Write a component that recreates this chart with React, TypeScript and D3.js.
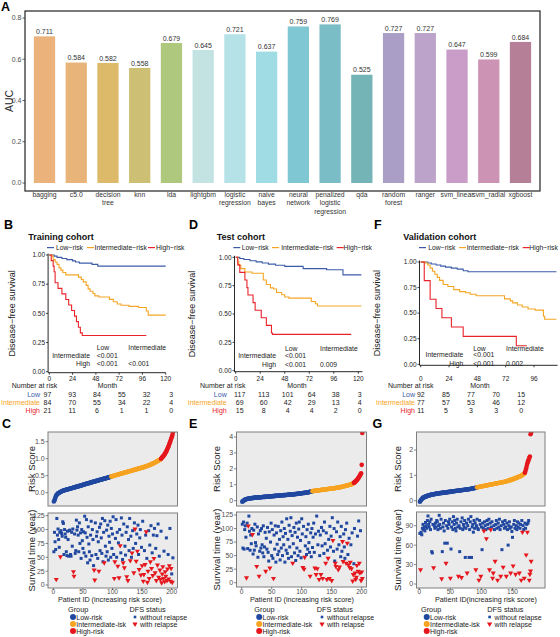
import React from 'react';
import * as d3 from 'd3';

const FONT = '"Liberation Sans", Arial, Helvetica, sans-serif';

// ---------- Panel A: AUC of each learner ----------
const modelNames = ['bagging', 'c5.0', 'decision tree', 'knn', 'lda', 'lightgbm', 'logistic regression', 'naive bayes', 'neural network', 'penalized logistic regression', 'qda', 'random forest', 'ranger', 'svm_linear', 'svm_radial', 'xgboost'];
const modelAuc = [0.711, 0.584, 0.582, 0.558, 0.679, 0.645, 0.721, 0.637, 0.759, 0.769, 0.525, 0.727, 0.727, 0.647, 0.599, 0.684];
const modelFill = ['#EBB27B', '#E9B479', '#DDB96A', '#CDBF73', '#AEC97D', '#C2E3E2', '#B4E2E6', '#A0DCE3', '#7FC7D3', '#7ABDC7', '#74B4B6', '#AA9EC7', '#BBA3C9', '#C99DC7', '#CD93B5', '#B57F97'];
const aucTicks = [0, 0.2, 0.4, 0.6, 0.8];

// ---------- Kaplan-Meier change points: [month, survival] ----------
const trainLow = [[0, 1], [5, 0.99], [8, 0.98], [13, 0.97], [18, 0.96], [24, 0.95], [27, 0.94], [31, 0.93], [44, 0.92], [50, 0.905], [120, 0.905]];
const trainInt = [[0, 1], [3, 0.99], [4, 0.96], [6, 0.94], [8, 0.92], [10, 0.89], [12, 0.87], [14, 0.85], [17, 0.83], [30, 0.81], [33, 0.79], [35, 0.77], [38, 0.74], [40, 0.71], [42, 0.69], [45, 0.67], [47, 0.65], [51, 0.64], [62, 0.62], [66, 0.6], [70, 0.58], [74, 0.57], [82, 0.56], [92, 0.55], [100, 0.52], [102, 0.485], [120, 0.485]];
const trainHigh = [[0, 1], [2, 0.952], [4, 0.905], [5, 0.857], [6, 0.762], [9, 0.714], [13, 0.667], [17, 0.619], [20, 0.571], [23, 0.524], [26, 0.476], [28, 0.429], [30, 0.381], [32, 0.333], [34, 0.31], [100, 0.31]];

const testLow = [[0, 1], [4, 0.99], [8, 0.98], [14, 0.97], [20, 0.96], [26, 0.95], [32, 0.94], [39, 0.93], [48, 0.92], [66, 0.9], [89, 0.89], [105, 0.845], [123, 0.845]];
const testInt = [[0, 1], [2, 0.96], [3, 0.93], [5, 0.9], [9, 0.87], [16, 0.86], [27, 0.8], [30, 0.76], [34, 0.73], [37, 0.72], [40, 0.69], [45, 0.67], [48, 0.65], [52, 0.64], [74, 0.61], [78, 0.59], [80, 0.57], [123, 0.57]];
const testHigh = [[0, 1], [2, 0.933], [4, 0.867], [9, 0.8], [11, 0.733], [12, 0.667], [17, 0.6], [19, 0.533], [25, 0.467], [30, 0.4], [35, 0.333], [36, 0.32], [113, 0.32]];

const validLow = [[0, 1], [6, 0.99], [9, 0.98], [13, 0.97], [17, 0.96], [21, 0.95], [26, 0.94], [31, 0.93], [36, 0.915], [40, 0.905], [115, 0.905]];
const validInt = [[0, 1], [4, 0.99], [6, 0.97], [8, 0.94], [10, 0.91], [12, 0.88], [14, 0.85], [16, 0.82], [19, 0.78], [23, 0.76], [28, 0.73], [33, 0.71], [38, 0.7], [42, 0.685], [47, 0.67], [71, 0.64], [76, 0.62], [78, 0.6], [82, 0.58], [86, 0.56], [91, 0.54], [97, 0.53], [104, 0.47], [105, 0.44], [115, 0.44]];
const validHigh = [[0, 1], [3, 0.818], [8, 0.636], [13, 0.545], [18, 0.455], [26, 0.364], [36, 0.273], [81, 0.182], [90, 0.182]];

const survTicks = [0, 0.25, 0.5, 0.75, 1];
const monthTicks120 = [0, 24, 48, 72, 96, 120];
const monthTicks96 = [0, 24, 48, 72, 96];
const groupLabels = ['Low', 'Intermediate', 'High'];
const legendLabels = ['Low\u2212risk', 'Intermediate\u2212risk', 'High\u2212risk'];

// Number at risk (rows: Low, Intermediate, High)
const trainAtRisk = [[97, 93, 84, 55, 32, 3], [84, 70, 55, 34, 22, 4], [21, 11, 6, 1, 1, 0]];
const testAtRisk = [[117, 113, 101, 64, 38, 3], [69, 60, 42, 29, 13, 4], [15, 8, 4, 4, 2, 0]];
const validAtRisk = [[92, 85, 77, 70, 15], [77, 57, 53, 46, 12], [11, 5, 3, 3, 0]];

// pairwise log-rank p: Int vs Low, High vs Low, High vs Int
const trainPvals = ['<0.001', '<0.001', '<0.001'];
const testPvals = ['<0.001', '<0.001', '0.009'];
const validPvals = ['<0.001', '<0.001', '0.002'];

// ---------- Risk scores, ordered by patient ID ----------
const trainRisk = [
  -0.26, -0.22, -0.17, -0.12, -0.08, -0.06, -0.04, -0.02, -0.01, 0.0,
  0.01, 0.02, 0.03, 0.04, 0.05, 0.05, 0.06, 0.07, 0.07, 0.08,
  0.08, 0.09, 0.09, 0.1, 0.1, 0.11, 0.11, 0.12, 0.12, 0.13,
  0.13, 0.14, 0.14, 0.15, 0.15, 0.16, 0.16, 0.17, 0.17, 0.18,
  0.18, 0.19, 0.19, 0.2, 0.2, 0.21, 0.21, 0.22, 0.22, 0.23,
  0.24, 0.24, 0.25, 0.25, 0.26, 0.26, 0.27, 0.27, 0.28, 0.28,
  0.29, 0.29, 0.3, 0.3, 0.31, 0.31, 0.32, 0.32, 0.33, 0.33,
  0.34, 0.34, 0.35, 0.35, 0.36, 0.36, 0.37, 0.37, 0.38, 0.38,
  0.39, 0.39, 0.4, 0.4, 0.41, 0.41, 0.42, 0.42, 0.43, 0.43,
  0.44, 0.44, 0.45, 0.45, 0.46, 0.46, 0.47,
  0.48, 0.48, 0.49, 0.49, 0.5, 0.5, 0.51, 0.51, 0.52, 0.52,
  0.53, 0.53, 0.54, 0.54, 0.55, 0.55, 0.56, 0.56, 0.57, 0.57,
  0.58, 0.58, 0.59, 0.59, 0.6, 0.6, 0.61, 0.61, 0.62, 0.62,
  0.63, 0.63, 0.64, 0.64, 0.65, 0.65, 0.66, 0.66, 0.67, 0.67,
  0.68, 0.68, 0.69, 0.69, 0.7, 0.7, 0.71, 0.71, 0.72, 0.72,
  0.73, 0.73, 0.74, 0.74, 0.75, 0.75, 0.76, 0.77, 0.77, 0.78,
  0.78, 0.79, 0.8, 0.8, 0.81, 0.82, 0.82, 0.83, 0.84, 0.85,
  0.86, 0.86, 0.87, 0.88, 0.89, 0.9, 0.91, 0.92, 0.93, 0.94,
  0.95, 0.96, 0.97, 0.98,
  1.0, 1.02, 1.04, 1.06, 1.08, 1.1, 1.13, 1.16, 1.19, 1.22, 1.26, 1.3, 1.34, 1.38, 1.43, 1.48, 1.53, 1.58, 1.63, 1.69, 1.76,
];
const testRisk = [
  -0.06, -0.03, 0.0, 0.03, 0.05, 0.07, 0.09, 0.1, 0.11, 0.12,
  0.13, 0.14, 0.14, 0.15, 0.15, 0.16, 0.16, 0.17, 0.17, 0.18,
  0.18, 0.19, 0.19, 0.19, 0.2, 0.2, 0.2, 0.21, 0.21, 0.21,
  0.22, 0.22, 0.22, 0.23, 0.23, 0.23, 0.24, 0.24, 0.24, 0.25,
  0.25, 0.25, 0.26, 0.26, 0.26, 0.27, 0.27, 0.27, 0.28, 0.28,
  0.28, 0.29, 0.29, 0.29, 0.3, 0.3, 0.3, 0.31, 0.31, 0.31,
  0.32, 0.32, 0.32, 0.33, 0.33, 0.33, 0.34, 0.34, 0.34, 0.35,
  0.35, 0.35, 0.36, 0.36, 0.36, 0.37, 0.37, 0.37, 0.38, 0.38,
  0.38, 0.39, 0.39, 0.39, 0.4, 0.4, 0.4, 0.41, 0.41, 0.42,
  0.42, 0.43, 0.43, 0.44, 0.44, 0.45, 0.45, 0.46, 0.46, 0.47,
  0.47, 0.48, 0.48, 0.49, 0.49, 0.5, 0.5, 0.51, 0.51, 0.52,
  0.53, 0.54, 0.55, 0.56, 0.57, 0.58, 0.59,
  0.6, 0.61, 0.61, 0.62, 0.62, 0.63, 0.63, 0.64, 0.64, 0.65,
  0.65, 0.66, 0.66, 0.67, 0.67, 0.68, 0.68, 0.69, 0.69, 0.7,
  0.7, 0.71, 0.71, 0.72, 0.72, 0.73, 0.73, 0.74, 0.74, 0.75,
  0.75, 0.76, 0.76, 0.77, 0.77, 0.78, 0.78, 0.79, 0.79, 0.8,
  0.81, 0.81, 0.82, 0.83, 0.83, 0.84, 0.85, 0.85, 0.86, 0.87,
  0.88, 0.89, 0.9, 0.91, 0.92, 0.93, 0.94, 0.95, 0.96, 0.97,
  0.98, 0.99, 1.0, 1.01, 1.02, 1.04, 1.05, 1.07, 1.09,
  1.12, 1.15, 1.18, 1.22, 1.26, 1.3, 1.35, 1.4, 1.45, 1.52, 1.58, 1.65, 1.72, 2.25, 4.25,
];
const validRisk = [
  -0.04, 0.0, 0.04, 0.07, 0.09, 0.11, 0.13, 0.14, 0.15, 0.16,
  0.17, 0.18, 0.19, 0.2, 0.21, 0.21, 0.22, 0.23, 0.23, 0.24,
  0.24, 0.25, 0.25, 0.26, 0.26, 0.27, 0.27, 0.28, 0.28, 0.29,
  0.29, 0.29, 0.3, 0.3, 0.3, 0.31, 0.31, 0.31, 0.32, 0.32,
  0.32, 0.33, 0.33, 0.33, 0.34, 0.34, 0.34, 0.35, 0.35, 0.35,
  0.36, 0.36, 0.36, 0.37, 0.37, 0.37, 0.38, 0.38, 0.38, 0.39,
  0.39, 0.39, 0.4, 0.4, 0.4, 0.41, 0.41, 0.41, 0.42, 0.42,
  0.42, 0.43, 0.43, 0.43, 0.44, 0.44, 0.44, 0.45, 0.45, 0.45,
  0.46, 0.46, 0.47, 0.47, 0.48, 0.48, 0.49, 0.49, 0.5, 0.5,
  0.51, 0.52,
  0.53, 0.53, 0.54, 0.54, 0.55, 0.55, 0.56, 0.56, 0.57, 0.57,
  0.58, 0.58, 0.59, 0.59, 0.6, 0.6, 0.61, 0.61, 0.62, 0.62,
  0.63, 0.63, 0.64, 0.64, 0.65, 0.65, 0.66, 0.66, 0.67, 0.67,
  0.68, 0.68, 0.69, 0.69, 0.7, 0.7, 0.71, 0.71, 0.72, 0.72,
  0.73, 0.73, 0.74, 0.74, 0.75, 0.75, 0.76, 0.77, 0.77, 0.78,
  0.79, 0.79, 0.8, 0.81, 0.82, 0.82, 0.83, 0.84, 0.85, 0.86,
  0.87, 0.88, 0.89, 0.9, 0.91, 0.92, 0.93, 0.94, 0.95, 0.96,
  0.97, 0.98, 1.0, 1.01, 1.03, 1.05, 1.07,
  1.1, 1.18, 1.28, 1.38, 1.48, 1.56, 1.62, 1.68, 1.74, 2.62, 2.68,
];

// ---------- Follow-up time per patient, and patients with relapse ----------
const trainSurv = [
  60, 95, 78, 64, 10, 120, 90, 101, 82, 68,
  95, 51, 98, 93, 88, 114, 111, 55, 100, 92,
  86, 60, 53, 97, 82, 52, 98, 99, 55, 52,
  95, 70, 101, 24, 16, 92, 57, 62, 117, 99,
  105, 90, 60, 112, 75, 94, 48, 100, 80, 66,
  96, 58, 124, 94, 52, 118, 86, 40, 105, 74,
  60, 45, 90, 115, 53, 100, 82, 35, 27, 9,
  112, 55, 88, 96, 48, 78, 25, 104, 62, 110,
  85, 57, 120, 42, 95, 40, 116, 70, 52, 99,
  60, 108, 45, 88, 77, 115, 50, 102, 66, 92,
  123, 55, 12, 42, 84, 118, 50, 95, 34, 76,
  13, 100, 71, 58, 121, 90, 46, 40, 110, 31,
  70, 54, 95, 15, 105, 8, 82, 62, 120, 44,
  88, 50, 58, 98, 66, 22, 112, 101, 75, 43,
  92, 61, 108, 55, 28, 85, 100, 18, 68, 35,
  115, 7, 19, 62, 37, 90, 96, 48, 5, 25,
  98, 12, 72, 42, 107, 30, 58, 17, 90, 48,
  102, 22, 66, 8, 89, 36, 110, 14, 52, 27,
  10, 97, 4, 20, 33, 12, 61, 6, 24, 16,
  85, 8, 29, 55, 11, 35, 102, 7, 30, 20, 5, 49,
];
const trainRelapse = [5, 12, 34, 35, 69, 70, 77, 86, 103, 104, 109, 111, 113, 118, 120, 124, 126, 130, 133, 136, 138, 140, 142, 145, 148, 150, 152, 153, 155, 157, 159, 160, 162, 164, 166, 168, 170, 172, 174, 176, 178, 180, 181, 183, 184, 185, 186, 188, 189, 190, 192, 193, 195, 196, 198, 199, 201];

const testSurv = [
  108, 64, 112, 62, 98, 105, 84, 9, 110, 63,
  105, 123, 95, 60, 88, 72, 100, 89, 53, 97,
  60, 108, 74, 68, 30, 103, 47, 90, 12, 58,
  96, 64, 100, 70, 55, 105, 48, 66, 93, 21,
  82, 62, 102, 56, 40, 94, 27, 75, 110, 50,
  98, 45, 8, 88, 62, 105, 38, 92, 71, 52,
  104, 58, 80, 42, 96, 64, 112, 50, 85, 70,
  100, 38, 91, 60, 118, 54, 80, 45, 106, 66,
  95, 120, 48, 87, 36, 72, 102, 55, 93, 41,
  110, 64, 84, 50, 99, 112, 58, 78, 46, 118,
  90, 28, 104, 25, 47, 68, 85, 52, 98, 62,
  108, 74, 56, 12, 92, 48, 100, 65, 84, 110,
  56, 27, 90, 15, 123, 26, 70, 95, 6, 50,
  88, 15, 102, 68, 8, 96, 54, 112, 72, 36,
  92, 6, 60, 45, 80, 8, 104, 66, 86, 4,
  120, 78, 58, 100, 40, 36, 30, 94, 62, 112,
  24, 70, 29, 85, 48, 104, 58, 76, 39, 90,
  66, 45, 98, 36, 110, 73, 52, 33, 82, 28,
  38, 70, 26, 92, 3, 15, 35, 100, 18, 6,
  10, 32, 86, 21, 114, 36, 18, 96, 4, 20, 8,
];
const testRelapse = [8, 11, 18, 25, 29, 40, 47, 53, 85, 102, 104, 105, 114, 122, 124, 126, 129, 132, 135, 140, 142, 144, 146, 150, 152, 156, 157, 161, 163, 168, 169, 174, 176, 178, 180, 181, 183, 185, 186, 189, 190, 191, 192, 194, 196, 197, 199, 200, 201];

const validSurv = [
  78, 22, 80, 76, 86, 92, 84, 88, 82, 95,
  90, 86, 98, 105, 92, 88, 96, 84, 100, 50,
  48, 92, 25, 90, 86, 94, 88, 98, 96, 84,
  90, 106, 92, 86, 100, 8, 50, 88, 94, 82,
  63, 98, 32, 90, 63, 86, 96, 92, 100, 9,
  54, 88, 96, 84, 104, 92, 98, 86, 82, 94,
  100, 88, 12, 90, 50, 86, 96, 10, 102, 84,
  92, 88, 98, 41, 86, 94, 17, 90, 100, 41,
  84, 96, 104, 41, 88, 92, 80, 98, 86, 94,
  22, 90, 100, 86, 84, 6, 98, 92, 12, 88,
  53, 94, 86, 82, 96, 90, 84, 70, 98, 92,
  86, 100, 22, 94, 84, 88, 96, 9, 17, 90,
  84, 35, 92, 98, 86, 6, 94, 88, 100, 84,
  12, 90, 53, 96, 26, 92, 86, 98, 88, 12,
  94, 84, 60, 90, 96, 86, 17, 88, 81, 72,
  28, 92, 98, 86, 15, 90, 84, 96, 88, 94,
  17, 86, 92, 6, 98, 80, 90, 84, 9, 94,
  86, 45, 92, 80, 94, 98, 6, 15, 20, 35,
];
const validRelapse = [2, 23, 36, 43, 50, 63, 68, 77, 91, 96, 99, 104, 108, 113, 115, 118, 119, 122, 126, 131, 135, 140, 147, 151, 155, 161, 164, 166, 169, 172, 174, 177, 178, 179, 180];

// ---------- colours ----------
const KM_COLORS = ['#3B5BA9', '#F5A524', '#E8232A'];
const PT_COLORS = ['#2148A0', '#F6A321', '#E5171D'];
const PANEL_BG = '#EBEBEB';
const TICK_TEXT = '#4D4D4D';

function AucPanel() {
  const x = d3.scaleBand().domain(modelNames).range([25, 540]).paddingInner(0.33).paddingOuter(0.28);
  const y = d3.scaleLinear().domain([0, 0.8]).range([183, 18]);
  const bw = x.bandwidth();
  return (
    <g>
      <text x={1} y={10.5} fontSize={12.5} fontWeight="bold">A</text>
      {modelNames.map((m, i) => {
        const x0 = x(m) as number;
        return (
          <g key={m}>
            <rect x={x0} y={y(modelAuc[i])} width={bw} height={y(0) - y(modelAuc[i])} fill={modelFill[i]} />
            <text x={x0 + bw / 2} y={y(modelAuc[i]) - 2.3} textAnchor="middle" fontSize={7} fill="#333">
              {modelAuc[i].toFixed(3)}
            </text>
            {m.split(' ').map((part, j) => (
              <text key={j} x={x0 + bw / 2} y={197 + j * 8.3} textAnchor="middle" fontSize={6.8} fill="#333">
                {part}
              </text>
            ))}
          </g>
        );
      })}
      <rect x={25} y={11} width={515} height={180} fill="none" stroke="#222" strokeWidth={1.2} />
      {aucTicks.map((t) => (
        <g key={t}>
          <line x1={22.5} x2={25} y1={y(t)} y2={y(t)} stroke="#333" strokeWidth={0.8} />
          <text x={21.5} y={y(t) + 2.4} textAnchor="end" fontSize={7} fill={TICK_TEXT}>
            {t.toFixed(1)}
          </text>
        </g>
      ))}
      <text transform={`translate(12.5,101) rotate(-90)`} textAnchor="middle" fontSize={10.5} fill="#222">
        AUC
      </text>
    </g>
  );
}

type KMLayout = {
  letter: string; letterX: number; title: string; titleX: number;
  xDom: number[]; xr: number[]; yr: number[]; ticks: number[];
  legLine: number[]; legText: number[];
  pvRight: number; pvC1: number; pvC2: number; pvY: number[];
  tabDom: number[]; tabRange: number[]; tabLabelRight: number; narX: number; monthX: number; ylabX: number;
};

const kmLayouts: KMLayout[] = [
  {
    letter: 'B', letterX: 4, title: 'Training cohort', titleX: 28.3,
    xDom: [0, 120], xr: [49.3, 165.7], yr: [255, 371.7], ticks: monthTicks120,
    legLine: [47, 87, 148], legText: [56, 94.5, 156],
    pvRight: 90, pvC1: 96.7, pvC2: 128.3, pvY: [350, 358, 366],
    tabDom: [0, 120], tabRange: [47.5, 171.3], tabLabelRight: 40, narX: 11.7, monthX: 107.5, ylabX: 12,
  },
  {
    letter: 'D', letterX: 189, title: 'Test cohort', titleX: 216.7,
    xDom: [0, 124], xr: [235.7, 362.4], yr: [257.3, 370.7], ticks: monthTicks120,
    legLine: [233.3, 272, 336.7], legText: [241.7, 281.2, 343.5],
    pvRight: 276, pvC1: 285, pvC2: 320, pvY: [350.7, 358.3, 366.7],
    tabDom: [0, 120], tabRange: [239.7, 359.7], tabLabelRight: 226.7, narX: 200, monthX: 297, ylabX: 192,
  },
  {
    letter: 'F', letterX: 374, title: 'Validation cohort', titleX: 403.3,
    xDom: [0, 116], xr: [420.7, 557.6], yr: [262, 364.3], ticks: monthTicks96,
    legLine: [419, 459, 522.7], legText: [428.3, 466.7, 529.3],
    pvRight: 463.3, pvC1: 473.3, pvC2: 506, pvY: [350.7, 357.3, 366],
    tabDom: [0, 96], tabRange: [420.8, 521.2], tabLabelRight: 415, narX: 388, monthX: 480, ylabX: 377,
  },
];

function KMPanel({ L, curves, atRisk, pvals }: { L: KMLayout; curves: number[][][]; atRisk: number[][]; pvals: string[] }) {
  const x = d3.scaleLinear().domain(L.xDom).range(L.xr);
  const y = d3.scaleLinear().domain([0, 1]).range([L.yr[1], L.yr[0]]);
  const tx = d3.scaleLinear().domain(L.tabDom).range(L.tabRange);
  const step = d3.line<number[]>().x((d) => x(d[0])).y((d) => y(d[1])).curve(d3.curveStepAfter);
  const axisX = x(0) - 1.2;
  const axisY = y(0) + 1;
  const tableTimes = L.ticks;
  const fmt = d3.format('.2f');
  return (
    <g>
      <text x={L.letterX} y={229.3} fontSize={12.5} fontWeight="bold">{L.letter}</text>
      <text x={L.titleX} y={239.5} fontSize={9} fontWeight="bold" fill="#111">{L.title}</text>
      {legendLabels.map((lab, i) => (
        <g key={lab}>
          <line x1={L.legLine[i]} x2={L.legLine[i] + 7} y1={247.6} y2={247.6} stroke={KM_COLORS[i]} strokeWidth={1.2} />
          <text x={L.legText[i]} y={250} fontSize={6.8} fill="#222">{lab}</text>
        </g>
      ))}
      {curves.map((c, i) => (
        <path key={i} d={step(c) || ''} fill="none" stroke={KM_COLORS[i]} strokeWidth={1.1} />
      ))}
      <line x1={axisX} x2={axisX} y1={y(1) - 1.5} y2={axisY} stroke="#111" strokeWidth={0.9} />
      <line x1={axisX} x2={L.xr[1]} y1={axisY} y2={axisY} stroke="#111" strokeWidth={0.9} />
      {survTicks.map((t) => (
        <g key={t}>
          <line x1={axisX - 2} x2={axisX} y1={y(t)} y2={y(t)} stroke="#111" strokeWidth={0.8} />
          <text x={axisX - 3} y={y(t) + 2.2} textAnchor="end" fontSize={6.5} fill="#222">{fmt(t)}</text>
        </g>
      ))}
      {L.ticks.map((t) => (
        <g key={t}>
          <line x1={x(t)} x2={x(t)} y1={axisY} y2={axisY + 2} stroke="#111" strokeWidth={0.8} />
          <text x={x(t)} y={381} textAnchor="middle" fontSize={6.5} fill="#222">{t}</text>
        </g>
      ))}
      <text transform={`translate(${L.ylabX + 3},${(L.yr[0] + L.yr[1]) / 2}) rotate(-90)`} textAnchor="middle" fontSize={9} fill="#222">
        Disease{'\u2212'}free survival
      </text>
      {/* pairwise p-values */}
      <text x={L.pvC1} y={L.pvY[0]} fontSize={6.8} fill="#222">Low</text>
      <text x={L.pvC2} y={L.pvY[0]} fontSize={6.8} fill="#222">Intermediate</text>
      <text x={L.pvRight} y={L.pvY[1]} textAnchor="end" fontSize={6.8} fill="#222">Intermediate</text>
      <text x={L.pvC1} y={L.pvY[1]} fontSize={6.8} fill="#222">{pvals[0]}</text>
      <text x={L.pvRight} y={L.pvY[2]} textAnchor="end" fontSize={6.8} fill="#222">High</text>
      <text x={L.pvC1} y={L.pvY[2]} fontSize={6.8} fill="#222">{pvals[1]}</text>
      <text x={L.pvC2} y={L.pvY[2]} fontSize={6.8} fill="#222">{pvals[2]}</text>
      {/* number-at-risk table */}
      <text x={L.narX} y={387.5} fontSize={7} fill="#222">Number at risk</text>
      <text x={L.monthX} y={387.5} textAnchor="middle" fontSize={7} fill="#222">Month</text>
      {atRisk.map((row, r) => (
        <g key={r}>
          <text x={L.tabLabelRight} y={397 + r * 8} textAnchor="end" fontSize={7} fill={KM_COLORS[r]}>{groupLabels[r]}</text>
          {row.map((v, k) => (
            <text key={k} x={tx(tableTimes[k])} y={397 + r * 8} textAnchor="middle" fontSize={7} fill="#222">{v}</text>
          ))}
        </g>
      ))}
    </g>
  );
}

type RiskLayout = {
  id: string; letter: string; letterX: number;
  frameX: number[]; riskFrameY: number[]; survFrameY: number[];
  xDom: number[]; xRange: number[]; xTicks: number[];
  riskDom: number[]; riskRange: number[]; riskTicks: number[]; riskFmt: string;
  survDom: number[]; survRange: number[]; survTicks: number[];
  ylabX: number; xlab: string; xlabX: number;
  legGroupX: number; legCircleX: number; legDfsX: number; legSqX: number;
};

const riskLayouts: RiskLayout[] = [
  {
    id: 'c', letter: 'C', letterX: 2, frameX: [48, 177.5], riskFrameY: [432, 506], survFrameY: [513, 588],
    xDom: [0, 200], xRange: [53.3, 171.7], xTicks: [0, 50, 100, 150, 200],
    riskDom: [0, 1.5], riskRange: [492.7, 441.7], riskTicks: [0, 0.5, 1, 1.5], riskFmt: '.1f',
    survDom: [0, 125], survRange: [585, 515.7], survTicks: [0, 25, 50, 75, 100, 125],
    ylabX: 31.5, xlab: 'Patient ID (increasing risk score)', xlabX: 110,
    legGroupX: 68, legCircleX: 73, legDfsX: 129.5, legSqX: 135,
  },
  {
    id: 'e', letter: 'E', letterX: 189, frameX: [236.5, 366.5], riskFrameY: [432, 506], survFrameY: [512, 587],
    xDom: [0, 200], xRange: [241.7, 361.7], xTicks: [0, 50, 100, 150, 200],
    riskDom: [0, 4], riskRange: [500.7, 437], riskTicks: [0, 1, 2, 3, 4], riskFmt: 'd',
    survDom: [0, 125], survRange: [582.7, 515], survTicks: [0, 25, 50, 75, 100, 125],
    ylabX: 216.5, xlab: 'Patient ID (increasing risk score)', xlabX: 302,
    legGroupX: 254.3, legCircleX: 259.2, legDfsX: 316.7, legSqX: 322,
  },
  {
    id: 'g', letter: 'G', letterX: 372.5, frameX: [416.5, 545], riskFrameY: [432, 506], survFrameY: [512, 588],
    xDom: [0, 150], xRange: [419.3, 512.5], xTicks: [0, 50, 100, 150],
    riskDom: [0, 2], riskRange: [500.7, 450], riskTicks: [0, 1, 2], riskFmt: 'd',
    survDom: [0, 90], survRange: [584, 525.7], survTicks: [0, 30, 60, 90],
    ylabX: 398, xlab: 'Patient ID(increasing risk score)', xlabX: 486,
    legGroupX: 421, legCircleX: 426.7, legDfsX: 487.3, legSqX: 489.6,
  },
];

function RiskPanel({ L, risk, sizes, surv, relapse }: { L: RiskLayout; risk: number[]; sizes: number[]; surv: number[]; relapse: number[] }) {
  const x = d3.scaleLinear().domain(L.xDom).range(L.xRange);
  const yR = d3.scaleLinear().domain(L.riskDom).range(L.riskRange);
  const yS = d3.scaleLinear().domain(L.survDom).range(L.survRange);
  const rel = new Set(relapse);
  const tri = d3.symbol().type(d3.symbolTriangle).size(11)() || '';
  const triSmall = d3.symbol().type(d3.symbolTriangle).size(12)() || '';
  const groupOf = (i: number) => (i < sizes[0] ? 0 : i < sizes[0] + sizes[1] ? 1 : 2);
  const fw = L.frameX[1] - L.frameX[0];
  const rf = d3.format(L.riskFmt);
  const patients = surv.map((t, i) => ({ id: i + 1, t, relapse: rel.has(i + 1) }));
  const censored = patients.filter((p) => !p.relapse);
  const events = patients.filter((p) => p.relapse);
  const riskMid = (L.riskFrameY[0] + L.riskFrameY[1]) / 2;
  const survMid = (L.survFrameY[0] + L.survFrameY[1]) / 2;
  return (
    <g>
      <defs>
        <clipPath id={`clip-risk-${L.id}`}>
          <rect x={L.frameX[0]} y={L.riskFrameY[0]} width={fw} height={L.riskFrameY[1] - L.riskFrameY[0]} />
        </clipPath>
        <clipPath id={`clip-surv-${L.id}`}>
          <rect x={L.frameX[0]} y={L.survFrameY[0]} width={fw} height={L.survFrameY[1] - L.survFrameY[0]} />
        </clipPath>
      </defs>
      <text x={L.letterX} y={428} fontSize={12.5} fontWeight="bold">{L.letter}</text>

      {/* risk score curve */}
      <rect x={L.frameX[0]} y={L.riskFrameY[0]} width={fw} height={L.riskFrameY[1] - L.riskFrameY[0]} fill={PANEL_BG} />
      <g clipPath={`url(#clip-risk-${L.id})`}>
        {risk.map((r, i) => (
          <circle key={i} cx={x(i + 1)} cy={yR(r)} r={2.3} fill={PT_COLORS[groupOf(i)]} />
        ))}
      </g>
      <rect x={L.frameX[0]} y={L.riskFrameY[0]} width={fw} height={L.riskFrameY[1] - L.riskFrameY[0]} fill="none" stroke="#7F7F7F" strokeWidth={1} />
      {L.riskTicks.map((t) => (
        <g key={t}>
          <line x1={L.frameX[0] - 2.5} x2={L.frameX[0]} y1={yR(t)} y2={yR(t)} stroke="#555" strokeWidth={0.7} />
          <text x={L.frameX[0] - 3.3} y={yR(t) + 2.4} textAnchor="end" fontSize={7} fill={TICK_TEXT}>{rf(t)}</text>
        </g>
      ))}
      <text transform={`translate(${L.ylabX + 3},${riskMid}) rotate(-90)`} textAnchor="middle" fontSize={9.5} fill="#222">Risk Score</text>

      {/* follow-up time and relapse status */}
      <rect x={L.frameX[0]} y={L.survFrameY[0]} width={fw} height={L.survFrameY[1] - L.survFrameY[0]} fill={PANEL_BG} />
      <g clipPath={`url(#clip-surv-${L.id})`}>
        {censored.map((p) => (
          <rect key={p.id} x={x(p.id) - 1.5} y={yS(p.t) - 1.5} width={3} height={3} fill={PT_COLORS[0]} />
        ))}
        {events.map((p) => (
          <path key={p.id} d={tri} transform={`translate(${x(p.id)},${yS(p.t)}) rotate(180)`} fill={PT_COLORS[2]} />
        ))}
      </g>
      <rect x={L.frameX[0]} y={L.survFrameY[0]} width={fw} height={L.survFrameY[1] - L.survFrameY[0]} fill="none" stroke="#7F7F7F" strokeWidth={1} />
      {L.survTicks.map((t) => (
        <g key={t}>
          <line x1={L.frameX[0] - 2.5} x2={L.frameX[0]} y1={yS(t)} y2={yS(t)} stroke="#555" strokeWidth={0.7} />
          <text x={L.frameX[0] - 3.3} y={yS(t) + 2.4} textAnchor="end" fontSize={7} fill={TICK_TEXT}>{t}</text>
        </g>
      ))}
      {L.xTicks.map((t) => (
        <g key={t}>
          <line x1={x(t)} x2={x(t)} y1={L.survFrameY[1]} y2={L.survFrameY[1] + 2} stroke="#555" strokeWidth={0.7} />
          <text x={x(t)} y={594.3} textAnchor="middle" fontSize={6.6} fill={TICK_TEXT}>{t}</text>
        </g>
      ))}
      <text transform={`translate(${L.ylabX + 3},${survMid}) rotate(-90)`} textAnchor="middle" fontSize={9.5} fill="#222">Survival time (year)</text>
      <text x={L.xlabX} y={601.6} textAnchor="middle" fontSize={7.2} fill="#222">{L.xlab}</text>

      {/* legends */}
      <text x={L.legGroupX} y={612} fontSize={7.3} fill="#222">Group</text>
      {['Low-risk', 'Intermediate-isk', 'High-risk'].map((lab, i) => (
        <g key={lab}>
          <circle cx={L.legCircleX} cy={617 + i * 7} r={3} fill={PT_COLORS[i]} />
          <text x={L.legCircleX + 3.3} y={619.8 + i * 7} fontSize={7} fill="#222">{lab}</text>
        </g>
      ))}
      <text x={L.legDfsX} y={612} fontSize={7.3} fill="#222">DFS status</text>
      <rect x={L.legSqX - 1.3} y={617 - 1.3} width={2.6} height={2.6} fill={PT_COLORS[0]} />
      <text x={L.legSqX + 5} y={619.8} fontSize={7} fill="#222">without relapse</text>
      <path d={triSmall} transform={`translate(${L.legSqX},${624}) rotate(180)`} fill={PT_COLORS[2]} />
      <text x={L.legSqX + 5} y={626.8} fontSize={7} fill="#222">with relapse</text>
    </g>
  );
}

export default function App() {
  const groupSizes = (tab: number[][]) => tab.map((row) => row[0]);
  return (
    <svg
      width={560}
      height={637}
      viewBox="0 0 560 637"
      style={{ position: 'absolute', left: 0, top: 0, background: '#fff' }}
      fontFamily={FONT}
    >
      <rect width={560} height={637} fill="#fff" />
      <AucPanel />
      <KMPanel L={kmLayouts[0]} curves={[trainLow, trainInt, trainHigh]} atRisk={trainAtRisk} pvals={trainPvals} />
      <KMPanel L={kmLayouts[1]} curves={[testLow, testInt, testHigh]} atRisk={testAtRisk} pvals={testPvals} />
      <KMPanel L={kmLayouts[2]} curves={[validLow, validInt, validHigh]} atRisk={validAtRisk} pvals={validPvals} />
      <RiskPanel L={riskLayouts[0]} risk={trainRisk} sizes={groupSizes(trainAtRisk)} surv={trainSurv} relapse={trainRelapse} />
      <RiskPanel L={riskLayouts[1]} risk={testRisk} sizes={groupSizes(testAtRisk)} surv={testSurv} relapse={testRelapse} />
      <RiskPanel L={riskLayouts[2]} risk={validRisk} sizes={groupSizes(validAtRisk)} surv={validSurv} relapse={validRelapse} />
    </svg>
  );
}
